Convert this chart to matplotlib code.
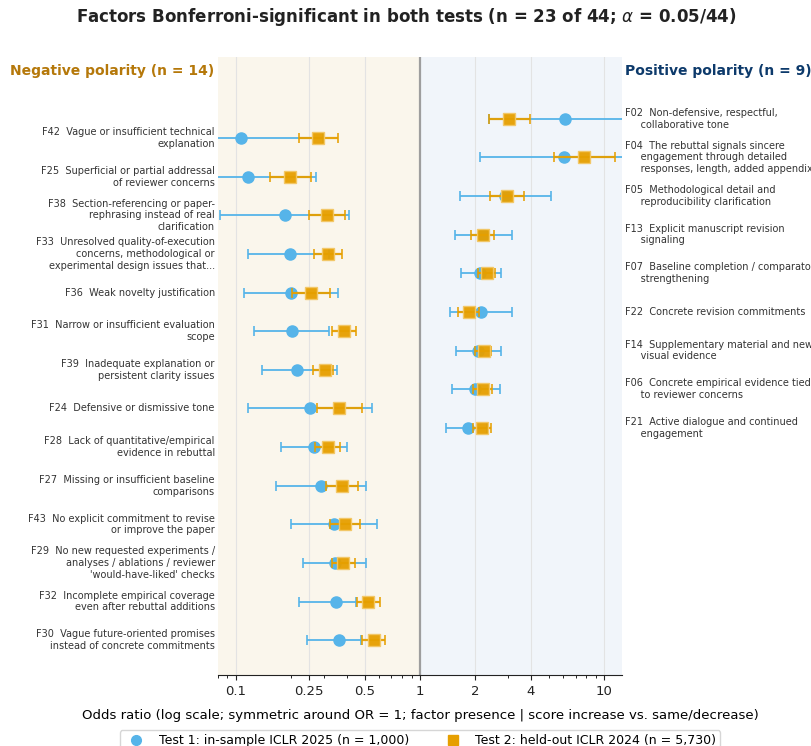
import matplotlib
matplotlib.use("Agg")
import matplotlib.pyplot as plt
from matplotlib.ticker import FixedLocator, FixedFormatter, LogLocator, NullFormatter
from matplotlib.lines import Line2D

# negative polarity factors (top to bottom)
neg_labels = [
    "F42  Vague or insufficient technical\nexplanation",
    "F25  Superficial or partial addressal\nof reviewer concerns",
    "F38  Section-referencing or paper-\nrephrasing instead of real\nclarification",
    "F33  Unresolved quality-of-execution\nconcerns, methodological or\nexperimental design issues that...",
    "F36  Weak novelty justification",
    "F31  Narrow or insufficient evaluation\nscope",
    "F39  Inadequate explanation or\npersistent clarity issues",
    "F24  Defensive or dismissive tone",
    "F28  Lack of quantitative/empirical\nevidence in rebuttal",
    "F27  Missing or insufficient baseline\ncomparisons",
    "F43  No explicit commitment to revise\nor improve the paper",
    "F29  No new requested experiments /\nanalyses / ablations / reviewer\n'would-have-liked' checks",
    "F32  Incomplete empirical coverage\neven after rebuttal additions",
    "F30  Vague future-oriented promises\ninstead of concrete commitments",
]
neg_t1 = [0.107, 0.117, 0.184, 0.198, 0.199, 0.201, 0.214, 0.254, 0.264, 0.291, 0.340, 0.344, 0.350, 0.362]
neg_t1_lo = [0.05, 0.06, 0.082, 0.116, 0.111, 0.126, 0.138, 0.117, 0.176, 0.166, 0.199, 0.232, 0.221, 0.242]
neg_t1_hi = [0.299, 0.271, 0.412, 0.321, 0.357, 0.321, 0.354, 0.547, 0.402, 0.512, 0.585, 0.510, 0.45, 0.48]
neg_t2 = [0.281, 0.198, 0.311, 0.318, 0.256, 0.387, 0.304, 0.365, 0.315, 0.379, 0.390, 0.384, 0.525, 0.560]
neg_t2_lo = [0.220, 0.153, 0.248, 0.265, 0.203, 0.334, 0.262, 0.275, 0.270, 0.310, 0.323, 0.331, 0.455, 0.483]
neg_t2_hi = [0.359, 0.257, 0.390, 0.379, 0.324, 0.450, 0.337, 0.485, 0.368, 0.463, 0.473, 0.442, 0.605, 0.647]

# positive polarity factors (top to bottom)
pos_labels = [
    "F02  Non-defensive, respectful,\n     collaborative tone",
    "F04  The rebuttal signals sincere\n     engagement through detailed\n     responses, length, added appendix",
    "F05  Methodological detail and\n     reproducibility clarification",
    "F13  Explicit manuscript revision\n     signaling",
    "F07  Baseline completion / comparator\n     strengthening",
    "F22  Concrete revision commitments",
    "F14  Supplementary material and new\n     visual evidence",
    "F06  Concrete empirical evidence tied\n     to reviewer concerns",
    "F21  Active dialogue and continued\n     engagement",
]
pos_t1 = [6.11, 6.09, 2.88, 2.19, 2.13, 2.14, 2.06, 2.00, 1.83]
pos_t1_lo = [2.36, 2.12, 1.64, 1.54, 1.67, 1.45, 1.56, 1.50, 1.38]
pos_t1_hi = [16.0, 18.0, 5.13, 3.17, 2.76, 3.16, 2.76, 2.71, 2.30]
pos_t2 = [3.03, 7.80, 2.97, 2.19, 2.30, 1.84, 2.23, 2.20, 2.17]
pos_t2_lo = [2.36, 5.33, 2.41, 1.90, 2.07, 1.60, 2.00, 1.94, 1.94]
pos_t2_hi = [3.96, 11.5, 3.69, 2.53, 2.56, 2.10, 2.44, 2.47, 2.42]

tick_vals = [0.1, 0.25, 0.5, 1, 2, 4, 10]
tick_text = ["0.1", "0.25", "0.5", "1", "2", "4", "10"]

BLUE = "#56B4E9"
ORANGE = "#E69F00"

fig = plt.figure(figsize=(8.12, 7.46), dpi=100)
ax = fig.add_axes([0.2685, 0.0952, 0.4975, 0.8284])

ax.axvspan(0.08, 1, color="#FAF6EC", zorder=0)
ax.axvspan(1, 12.5, color="#F1F5FA", zorder=0)
for v in tick_vals:
    if v != 1:
        ax.axvline(v, color="#E3E3E3", lw=0.8, zorder=1)
ax.axvline(1, color="#9E9E9E", lw=1.6, zorder=2)

neg_y = list(range(len(neg_labels)))
pos_y = [i - 0.5 for i in range(len(pos_labels))]


def draw(ys, t1, t1lo, t1hi, t2, t2lo, t2hi):
    e1 = [[a - b for a, b in zip(t1, t1lo)], [b - a for a, b in zip(t1, t1hi)]]
    e2 = [[a - b for a, b in zip(t2, t2lo)], [b - a for a, b in zip(t2, t2hi)]]
    ax.errorbar(t1, ys, xerr=e1, fmt="o", color=BLUE, ms=8, mec=BLUE,
                ecolor=BLUE, elinewidth=1.3, capsize=3.5, capthick=1.2, zorder=3)
    ax.errorbar(t2, ys, xerr=e2, fmt="s", color=ORANGE, ms=8.5, mec="#F3C766",
                ecolor=ORANGE, elinewidth=1.6, capsize=3.5, capthick=1.2,
                alpha=0.95, zorder=4)


draw(neg_y, neg_t1, neg_t1_lo, neg_t1_hi, neg_t2, neg_t2_lo, neg_t2_hi)
draw(pos_y, pos_t1, pos_t1_lo, pos_t1_hi, pos_t2, pos_t2_lo, pos_t2_hi)

ax.set_xscale("log")
ax.set_xlim(0.08, 12.5)
ax.set_ylim(13.9, -2.1)
ax.xaxis.set_major_locator(FixedLocator(tick_vals))
ax.xaxis.set_major_formatter(FixedFormatter(tick_text))
ax.xaxis.set_minor_locator(LogLocator(base=10, subs=range(2, 10)))
ax.xaxis.set_minor_formatter(NullFormatter())
ax.tick_params(axis="x", labelsize=9.5, colors="#222222")
ax.set_yticks([])
for s in ["top", "right", "left"]:
    ax.spines[s].set_visible(False)
ax.spines["bottom"].set_color("#222222")

for y, lab in zip(neg_y, neg_labels):
    ax.text(-0.008, y, lab, transform=ax.get_yaxis_transform(), ha="right",
            va="center", fontsize=7.0, color="#333333", linespacing=1.2)
for y, lab in zip(pos_y, pos_labels):
    ax.text(1.008, y, lab, transform=ax.get_yaxis_transform(), ha="left",
            va="center", fontsize=7.0, color="#333333", linespacing=1.2)

fig.text(10 / 812, 1 - 71 / 746, "Negative polarity (n = 14)", ha="left", va="center",
         fontsize=10, fontweight="bold", color="#B5780A")
fig.text(625 / 812, 1 - 71 / 746, "Positive polarity (n = 9)", ha="left", va="center",
         fontsize=10, fontweight="bold", color="#0D3A6B")

fig.suptitle(r"Factors Bonferroni-significant in both tests (n = 23 of 44; $\alpha$ = 0.05/44)",
             x=0.5, y=1 - 17 / 746, va="center", fontsize=12.0, fontweight="bold", color="#222222")

ax.set_xlabel("Odds ratio (log scale; symmetric around OR = 1; factor presence | score increase vs. same/decrease)",
              fontsize=9.5, labelpad=8)

handles = [
    Line2D([], [], marker="o", ls="none", color=BLUE, ms=7),
    Line2D([], [], marker="s", ls="none", color=ORANGE, ms=7),
]
fig.legend(handles, ["Test 1: in-sample ICLR 2025 (n = 1,000)", "Test 2: held-out ICLR 2024 (n = 5,730)"],
           loc="upper center", bbox_to_anchor=(420 / 812, 1 - 724 / 746), ncol=2, fontsize=9,
           frameon=True, columnspacing=2.5, borderpad=0.3, handletextpad=0.8)

fig.savefig("out.png", dpi=100)
